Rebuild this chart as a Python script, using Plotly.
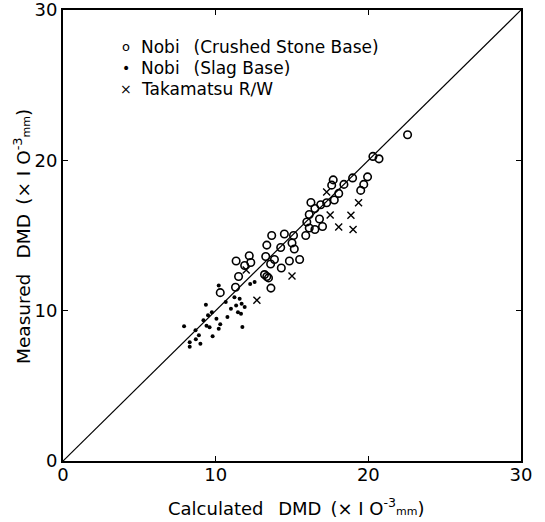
import plotly.graph_objects as go

# Nobi (Crushed Stone Base) - open circles
crushed_x = [22.57, 20.3, 20.7, 19.95, 18.97, 19.7, 19.5, 18.4, 17.7, 17.6, 18.06, 17.77, 17.27,
             16.88, 16.5, 16.24, 16.13, 15.97, 16.8, 16.13, 16.5, 17.0, 15.9, 15.1, 14.5, 13.67,
             15.0, 15.15, 14.26, 13.35, 15.5, 14.83, 13.28, 13.85, 13.6, 14.3, 13.35, 13.46,
             13.62, 11.34, 12.2, 12.3, 11.9, 11.5, 11.3, 10.3, 13.2]
crushed_y = [21.7, 20.26, 20.1, 18.9, 18.83, 18.4, 18.0, 18.4, 18.7, 18.35, 17.8, 17.36, 17.18,
             17.05, 16.8, 17.2, 16.4, 15.9, 16.1, 15.5, 15.4, 15.6, 15.0, 15.0, 15.1, 15.0,
             14.5, 14.1, 14.2, 14.36, 13.4, 13.3, 13.6, 13.4, 13.1, 12.84, 12.27, 12.18,
             11.5, 13.3, 13.65, 13.2, 13.0, 12.27, 11.56, 11.2, 12.4]

# Nobi (Slag Base) - filled dots
slag_x = [7.93, 8.3, 8.3, 8.68, 8.9, 9.0, 9.2, 9.36, 9.4, 9.6, 9.8, 9.5, 9.75, 10.05, 10.2,
          10.3, 10.2, 10.66, 10.77, 11.0, 11.23, 11.34, 11.46, 11.57, 11.7, 11.66, 11.9,
          11.75, 12.26, 12.55, 8.7]
slag_y = [8.96, 7.9, 7.6, 8.7, 8.37, 7.8, 9.36, 10.4, 9.0, 8.9, 8.3, 9.7, 9.9, 9.47, 8.8,
          9.1, 11.67, 10.57, 9.58, 10.13, 10.9, 10.35, 9.9, 10.8, 10.46, 9.8, 10.24,
          8.92, 11.78, 11.9, 8.1]

# Takamatsu R/W - crosses
taka_x = [12.7, 15.0, 17.5, 18.06, 18.86, 19.0, 19.36, 17.27, 12.0]
taka_y = [10.7, 12.3, 16.37, 15.57, 16.34, 15.4, 17.18, 17.9, 12.7]

line_x = [0, 30]
line_y = [0, 30]

ticks = [0, 10, 20, 30]
tick_labels = ["0", "10", "20", "30"]

legend_symbols = ["o", "\u2022", "\u00d7"]
legend_labels = ["Nobi\u2002 (Crushed Stone Base)", "Nobi\u2002 (Slag Base)", "Takamatsu R\u2215W"]

x_title = "Calculated\u2002 DMD\u2002(\u00d7 I O<sup>-3</sup><span style='font-size:11px'>mm</span>)"
y_title = "Measured\u2002 DMD\u2002(\u00d7 I O<sup>-3</sup><span style='font-size:11px'>mm</span>)"

FONT = "DejaVu Sans, sans-serif"

# plot area in pixels
L, R, T, B = 63, 24, 10, 61
W, H = 545, 522
PW, PH = W - L - R, H - T - B


def px_x(p):
    return (p - L) / PW


def px_y(p):
    return (H - B - p) / PH


fig = go.Figure()
fig.add_trace(go.Scatter(x=line_x, y=line_y, mode="lines",
                         line=dict(color="black", width=1.2), showlegend=False, hoverinfo="skip"))
fig.add_trace(go.Scatter(x=crushed_x, y=crushed_y, mode="markers", name=legend_labels[0], showlegend=False,
                         marker=dict(symbol="circle-open", size=7.5, color="black", line=dict(width=1.6))))
fig.add_trace(go.Scatter(x=slag_x, y=slag_y, mode="markers", name=legend_labels[1], showlegend=False,
                         marker=dict(symbol="circle", size=4, color="black")))
fig.add_trace(go.Scatter(x=taka_x, y=taka_y, mode="markers", name=legend_labels[2], showlegend=False,
                         marker=dict(symbol="x-thin", size=7, color="black", line=dict(width=1.4, color="black"))))

axis_common = dict(
    range=[0, 30], tickvals=ticks, ticktext=tick_labels, automargin=False,
    showgrid=False, zeroline=False, showline=True, linecolor="black", linewidth=2,
    mirror="ticks", ticks="inside", ticklen=5, tickwidth=1, tickcolor="black",
    ticklabeloverflow="allow",
    tickfont=dict(family=FONT, size=18, color="black"),
)

annotations = []
row_y = [46.7, 67.7, 88.5]
sym_sizes = [13, 14, 14]
for sym, lab, ry, ss in zip(legend_symbols, legend_labels, row_y, sym_sizes):
    annotations.append(dict(xref="paper", yref="paper", x=px_x(126), y=px_y(ry), text=sym,
                            showarrow=False, xanchor="center", yanchor="middle",
                            font=dict(family=FONT, size=ss, color="black")))
    annotations.append(dict(xref="paper", yref="paper", x=px_x(139), y=px_y(ry), text=lab,
                            showarrow=False, xanchor="left", yanchor="middle",
                            font=dict(family=FONT, size=17, color="black")))

annotations.append(dict(xref="paper", yref="paper", x=px_x(296), y=px_y(507), text=x_title,
                        showarrow=False, xanchor="center", yanchor="middle",
                        font=dict(family=FONT, size=18, color="black")))
annotations.append(dict(xref="paper", yref="paper", x=px_x(22), y=px_y(237), text=y_title,
                        showarrow=False, xanchor="center", yanchor="middle", textangle=-90,
                        font=dict(family=FONT, size=18.5, color="black")))

fig.update_layout(
    width=W, height=H,
    margin=dict(l=L, r=R, t=T, b=B),
    paper_bgcolor="white", plot_bgcolor="white",
    font=dict(family=FONT, color="black"),
    xaxis=dict(**axis_common, ticklabelstandoff=-4),
    yaxis=dict(**axis_common),
    annotations=annotations,
    showlegend=False,
)

fig.write_html("out.html")
